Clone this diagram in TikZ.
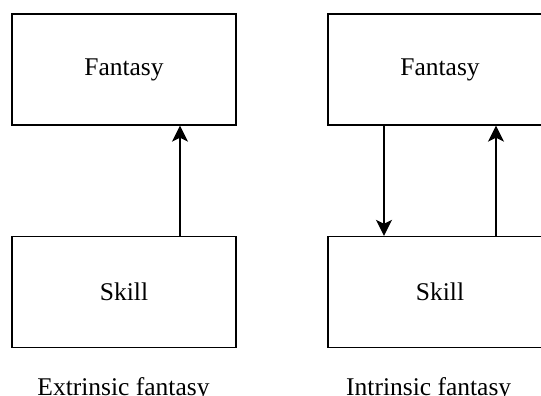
\documentclass[tikz,border=0pt]{standalone}
\usepackage{fontspec}
\setmainfont{Liberation Serif}
\usetikzlibrary{arrows.meta}
\begin{document}
\begin{tikzpicture}[x=1pt,y=-1pt,
  box/.style={draw, line width=1.4pt, minimum width=224pt, minimum height=111pt, inner sep=0pt, font=\fontsize{25.5}{30}\selectfont},
  lbl/.style={anchor=base, inner sep=0pt, font=\fontsize{25.5}{30}\selectfont},
  conn/.style={line width=1.3pt, -{Stealth[length=16pt,width=16pt,inset=4pt]}}]
\useasboundingbox (0,0) rectangle (541,396);
\clip (0,0) rectangle (541,396);
\node[box] (f1) at (124,69.5) {Fantasy};
\node[box] (s1) at (124,292) {Skill};
\node[box] (f2) at (440,69.5) {Fantasy};
\node[box] (s2) at (440,292) {Skill};
\draw[conn] (s1.north -| 180,0) -- (f1.south -| 180,0);
\draw[conn] (f2.south -| 384,0) -- (s2.north -| 384,0);
\draw[conn] (s2.north -| 496,0) -- (f2.south -| 496,0);
\node[lbl] (l1) at (123.5,395) {Extrinsic fantasy};
\node[lbl] (l2) at (428.7,395) {Intrinsic fantasy};
\end{tikzpicture}
\end{document}
